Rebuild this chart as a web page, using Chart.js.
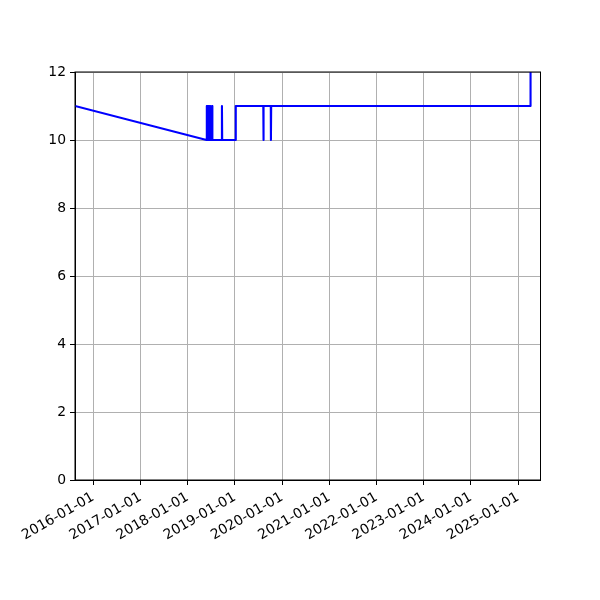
<!DOCTYPE html>
<html>
<head>
<meta charset="utf-8">
<script src="https://cdn.jsdelivr.net/npm/chart.js@4"></script>
<style>
  html, body { margin: 0; padding: 0; background: #fff; }
  #wrap { width: 600px; height: 600px; }
</style>
</head>
<body>
<div id="wrap"><canvas id="chart" width="600" height="600"></canvas></div>
<script>
// Dates and values
const dates = [
    '2015-08-13', '2018-05-27', '2018-05-28', '2018-05-30', '2018-06-01',
    '2018-06-03', '2018-06-05', '2018-06-07', '2018-06-09', '2018-06-11',
    '2018-06-13', '2018-06-15', '2018-06-17', '2018-06-19', '2018-06-21',
    '2018-06-23', '2018-06-25', '2018-06-27', '2018-07-08', '2018-07-09',
    '2018-07-11', '2018-09-22', '2018-09-23', '2018-09-25', '2019-01-07',
    '2019-01-08', '2019-08-09', '2019-08-10', '2019-08-12', '2019-10-06',
    '2019-10-07', '2019-10-09', '2025-04-06', '2025-04-07'
];
const values = [
    11, 10, 11, 10, 11,
    10, 11, 10, 11, 10,
    11, 10, 11, 10, 11,
    10, 11, 10, 10, 11,
    10, 10, 11, 10, 10,
    11, 11, 10, 11, 11,
    10, 11, 11, 12
];
const xTickLabels = [
    '2016-01-01', '2017-01-01', '2018-01-01', '2019-01-01', '2020-01-01',
    '2021-01-01', '2022-01-01', '2023-01-01', '2024-01-01', '2025-01-01'
];
const yTickLabels = ['0', '2', '4', '6', '8', '10', '12'];
const xRange = ['2015-08-13', '2025-06-23'];

function toMs(s) {
    const p = s.split('-').map(Number);
    return Date.UTC(p[0], p[1] - 1, p[2]);
}
function fmt(ms) {
    const d = new Date(ms);
    const pad = n => String(n).padStart(2, '0');
    return d.getUTCFullYear() + '-' + pad(d.getUTCMonth() + 1) + '-' + pad(d.getUTCDate());
}

const points = dates.map((d, i) => ({ x: toMs(d), y: values[i] }));
const FONT = { family: "'DejaVu Sans', sans-serif", size: 13.9 };

// matplotlib style frame: top and right spines
const framePlugin = {
    id: 'frame',
    afterDraw(chart) {
        const a = chart.chartArea;
        const c = chart.ctx;
        c.save();
        c.strokeStyle = '#000';
        c.lineWidth = 1;
        c.strokeRect(a.left, a.top, a.right - a.left, a.bottom - a.top);
        c.restore();
    }
};

new Chart(document.getElementById('chart'), {
    type: 'line',
    data: {
        datasets: [{
            data: points,
            borderColor: '#0000ff',
            borderWidth: 2.1,
            pointRadius: 0,
            tension: 0,
            fill: false,
            borderJoinStyle: 'round'
        }]
    },
    options: {
        responsive: false,
        animation: false,
        devicePixelRatio: 1,
        layout: { padding: { left: 0, top: 72, right: 59.5, bottom: 0 } },
        plugins: { legend: { display: false }, tooltip: { enabled: false } },
        scales: {
            x: {
                type: 'linear',
                min: toMs(xRange[0]),
                max: toMs(xRange[1]),
                afterBuildTicks(scale) {
                    scale.ticks = xTickLabels.map(s => ({ value: toMs(s) }));
                },
                afterFit(scale) { scale.height = 120; },
                ticks: {
                    color: '#000',
                    font: FONT,
                    minRotation: 30,
                    maxRotation: 30,
                    autoSkip: false,
                    padding: 4,
                    callback: v => fmt(v)
                },
                grid: { color: '#b0b0b0', lineWidth: 1, tickColor: '#000', tickLength: 5 },
                border: { color: '#000', width: 1 }
            },
            y: {
                min: 0,
                max: 12,
                afterBuildTicks(scale) {
                    scale.ticks = yTickLabels.map(s => ({ value: Number(s) }));
                },
                afterFit(scale) { scale.width = 75; },
                ticks: { color: '#000', font: FONT, padding: 4 },
                grid: { color: '#b0b0b0', lineWidth: 1, tickColor: '#000', tickLength: 5 },
                border: { color: '#000', width: 1 }
            }
        }
    },
    plugins: [framePlugin]
});
</script>
</body>
</html>
